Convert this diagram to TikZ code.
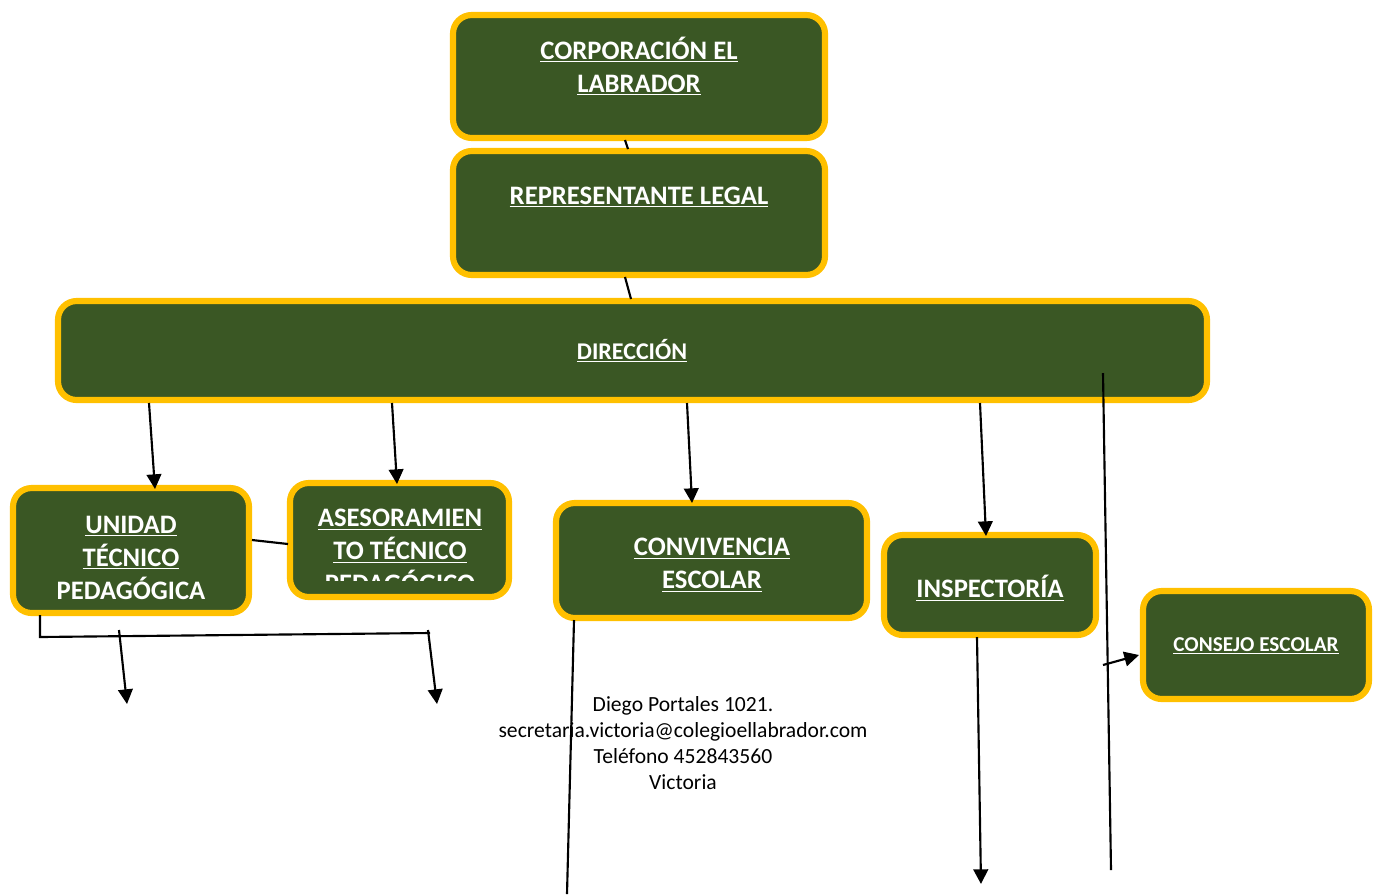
\documentclass[tikz,border=0pt]{standalone}
\usepackage{fontspec}
\setmainfont{Carlito}
\usetikzlibrary{arrows.meta}
\definecolor{boxgreen}{RGB}{58,87,36}
\definecolor{boxgold}{RGB}{255,192,0}
\tikzset{
  box/.style={draw=boxgold, line width=4.6pt, fill=boxgreen, rounded corners=14pt, rectangle, inner sep=0pt},
  boxtext/.style={text=white, align=center, font=\bfseries\fontsize{20}{24.75}\selectfont, inner sep=0pt},
  conn/.style={line width=1.6pt, draw=black},
  arr/.style={conn, -{Triangle[length=11pt,width=11pt]}},
}
\newcommand{\ul}[1]{\underline{#1}}
\begin{document}
\begin{tikzpicture}[x=0.75pt,y=-0.75pt]
\useasboundingbox (0,0) rectangle (1377,894);
% boxes
\node[box, minimum width=372*0.75pt, minimum height=123*0.75pt] (corp) at (639,76.5) {};
\node[box, minimum width=372*0.75pt, minimum height=124*0.75pt] (rep) at (639,213) {};
\node[box, minimum width=1149*0.75pt, minimum height=99*0.75pt] (dir) at (632.5,350.5) {};
\node[box, minimum width=236*0.75pt, minimum height=125*0.75pt] (utp) at (131,550.5) {};
\node[box, minimum width=219*0.75pt, minimum height=114*0.75pt] (ase) at (399.5,540) {};
\node[box, minimum width=311*0.75pt, minimum height=115*0.75pt] (conv) at (711.5,560.5) {};
\node[box, minimum width=212*0.75pt, minimum height=100*0.75pt] (insp) at (990,585) {};
\node[box, minimum width=226*0.75pt, minimum height=108*0.75pt] (cons) at (1256,645) {};
% texts
\node[boxtext] (corpT) at (639,66) {\ul{CORPORACIÓN EL}\\\ul{LABRADOR}};
\node[boxtext] (repT) at (639,197) {\ul{REPRESENTANTE LEGAL}};
\node[boxtext, font=\bfseries\fontsize{18}{20}\selectfont] (dirT) at (632,351) {\ul{DIRECCIÓN}};
\node[boxtext] (utpT) at (131,558) {\ul{UNIDAD}\\\ul{TÉCNICO}\\PEDAGÓGICA};
\begin{scope}
\clip (287,470) rectangle (512,580);
\node[boxtext, anchor=north] (aseT) at (400,509) {\ul{ASESORAMIEN}\\\ul{TO TÉCNICO}\\\ul{PEDAGÓGICO}};
\end{scope}
\node[boxtext] (convT) at (712,565) {\ul{CONVIVENCIA}\\\ul{ESCOLAR}};
\node[boxtext] (inspT) at (990,588) {\ul{INSPECTORÍA}};
\node[boxtext, font=\bfseries\fontsize{15.9}{18}\selectfont] (consT) at (1256,646) {\ul{CONSEJO ESCOLAR}};
\node[align=center, font=\fontsize{16.2}{19.5}\selectfont, inner sep=0pt] (addr) at (683,743)
 {Diego Portales 1021.\\secretaria.victoria@colegioellabrador.com\\Teléfono 452843560\\Victoria};
% coordinates
\coordinate (c1) at (625,140); \coordinate (c2) at (628,149);
\coordinate (r1) at (625,277); \coordinate (r2) at (631,299);
\coordinate (d1) at (149,403); \coordinate (u1) at (155,489);
\coordinate (d2) at (392,403); \coordinate (a1) at (397,484);
\coordinate (d3) at (687,403); \coordinate (v1) at (692,503);
\coordinate (d4) at (980,403); \coordinate (i1) at (986,536);
\coordinate (x1) at (1103,373); \coordinate (x2) at (1111,870);
\coordinate (k0) at (1103,665); \coordinate (k1) at (1139,655);
\coordinate (ua) at (252,540); \coordinate (au) at (288,544);
\coordinate (ub) at (40,615); \coordinate (ub2) at (40,637); \coordinate (ub3) at (430,633);
\coordinate (p1) at (119,630); \coordinate (p2) at (127,704);
\coordinate (q1) at (428,630); \coordinate (q2) at (437,704);
\coordinate (cv1) at (574,620); \coordinate (cv2) at (567,894);
\coordinate (in1) at (977,637); \coordinate (in2) at (981,884);
% connectors
\draw[conn] (c1) -- (c2);
\draw[conn] (r1) -- (r2);
\draw[arr] (d1) -- (u1);
\draw[arr] (d2) -- (a1);
\draw[arr] (d3) -- (v1);
\draw[arr] (d4) -- (i1);
\draw[conn] (x1) -- (x2);
\draw[arr] (k0) -- (k1);
\draw[conn] (ua) -- (au);
\draw[conn] (ub) -- (ub2) -- (ub3);
\draw[arr] (p1) -- (p2);
\draw[arr] (q1) -- (q2);
\draw[conn] (cv1) -- (cv2);
\draw[arr] (in1) -- (in2);
\end{tikzpicture}
\end{document}
